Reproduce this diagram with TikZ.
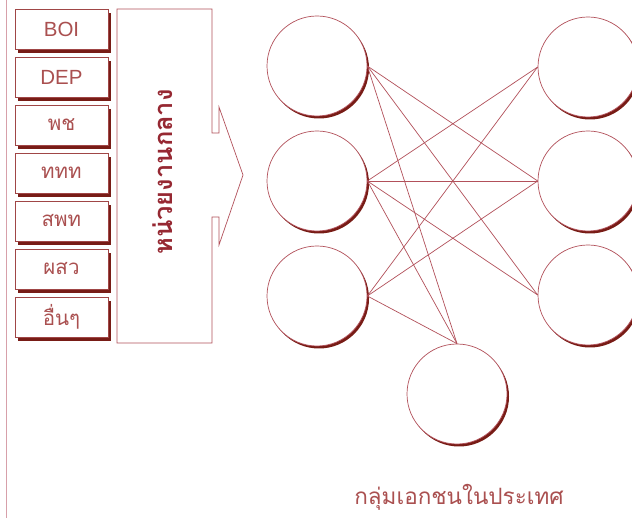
\documentclass[tikz,border=0pt]{standalone}
\usepackage{fontspec}
\setmainfont{Liberation Sans}
\newfontfamily\thaifont[Script=Thai]{Loma}
\usetikzlibrary{shadows}
\definecolor{linecol}{RGB}{178,80,90}
\definecolor{boxcol}{RGB}{160,70,70}
\definecolor{shadowcol}{RGB}{120,28,22}
\definecolor{textcol}{RGB}{170,80,80}
\definecolor{titlecol}{RGB}{150,40,50}
\definecolor{framecol}{RGB}{215,160,170}
\tikzset{
  agency/.style={draw=boxcol, line width=0.7pt, fill=white, minimum width=93pt, minimum height=40pt, inner sep=0pt,
    text=textcol, font=\fontsize{20.5}{20.5}\selectfont,
    drop shadow={shadow xshift=3pt, shadow yshift=-4pt, fill=shadowcol, opacity=1}},
  party/.style={circle, draw=linecol, line width=0.7pt, fill=white, minimum size=100pt, inner sep=0pt,
    drop shadow={shadow xshift=2pt, shadow yshift=-2.5pt, fill=shadowcol, opacity=1}},
  conn/.style={draw=linecol, line width=0.7pt},
  hub/.style={draw=linecol, line width=0.7pt, fill=white}
}
\begin{document}
\begin{tikzpicture}[x=1pt,y=-1pt]
\useasboundingbox (0,0) rectangle (632,518);
\fill[white] (0,0) rectangle (632,518);
% left frame line
\draw[framecol, line width=1pt] (6,0) -- (6,518);
% agency boxes
\node[agency] (boi) at (61.5,29) {BOI};
\node[agency] (dep) at (61.5,77) {DEP};
\node[agency] (pc) at (61.5,125) {\thaifont พช};
\node[agency] (ttt) at (61.5,173) {\thaifont ททท};
\node[agency] (spt) at (61.5,221) {\thaifont สพท};
\node[agency] (ssw) at (61.5,269) {\thaifont ผสว};
\node[agency] (oth) at (61.5,317) {\thaifont อื่นๆ};
% central agency arrow
\path[hub] (117,9) -- (212,9) -- (212,133) -- (219,133) -- (219,107) -- (243,175)
  -- (219,245) -- (219,217) -- (212,217) -- (212,343) -- (117,343) -- cycle;
\node[rotate=90, text=titlecol, font=\thaifont\bfseries\fontsize{25.5}{25.5}\selectfont] (central) at (163,172) {หน่วยงานกลาง};
% circles
\node[party] (l1) at (317,66) {};
\node[party] (l2) at (317,181) {};
\node[party] (l3) at (317,296) {};
\node[party] (r1) at (588,67) {};
\node[party] (r2) at (588,181) {};
\node[party] (r3) at (588,295) {};
\node[party] (b) at (457,394) {};
% connectors
\draw[conn] (l1.east) -- (r2.west);
\draw[conn] (l1.east) -- (r3.west);
\draw[conn] (l1.east) -- (b.north);
\draw[conn] (l2.east) -- (r1.west);
\draw[conn] (l2.east) -- (r2.west);
\draw[conn] (l2.east) -- (r3.west);
\draw[conn] (l2.east) -- (b.north);
\draw[conn] (l3.east) -- (r1.west);
\draw[conn] (l3.east) -- (r2.west);
\draw[conn] (l3.east) -- (b.north);
% caption
\node[text=textcol, font=\thaifont\fontsize{22.5}{22.5}\selectfont] (cap) at (459,497) {กลุ่มเอกชนในประเทศ};
\end{tikzpicture}
\end{document}
